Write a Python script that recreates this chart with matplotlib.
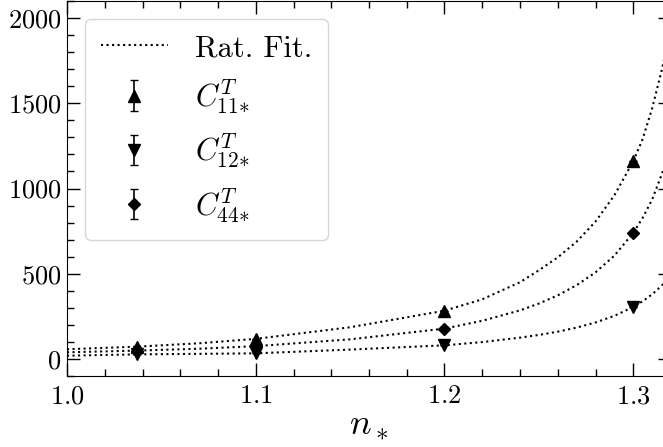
import numpy as np
import matplotlib
matplotlib.use("Agg")
import matplotlib.pyplot as plt

plt.rcParams["font.family"] = "serif"
plt.rcParams["font.serif"] = ["cmr10"]
plt.rcParams["mathtext.fontset"] = "cm"
plt.rcParams["axes.formatter.use_mathtext"] = True

# measured points
n_pts = [1.037, 1.1, 1.2, 1.3]
c11 = [72, 118, 283, 1160]
c12 = [27, 33, 80, 305]
c44 = [49, 75, 178, 740]
err_c11 = [0, 0, 0, 0]
err_c12 = [0, 0, 0, 0]
err_c44 = [0, 0, 0, 0]

# rational fit curves
n_fit = [1.00, 1.037, 1.07, 1.10, 1.15, 1.20, 1.22, 1.24, 1.25, 1.26, 1.27, 1.28,
         1.29, 1.30, 1.305, 1.31, 1.315, 1.32]
fit_c11 = [57, 72, 92, 118, 186, 283, 350, 450, 520, 596, 688, 806,
           960, 1160, 1290, 1470, 1690, 1950]
fit_c12 = [19, 27, 30, 33, 55, 80, 99, 125, 141, 160, 184, 214,
           253, 305, 339, 379, 429, 492]
fit_c44 = [39, 49, 60, 75, 115, 178, 224, 285, 325, 373, 433, 508,
           606, 740, 828, 935, 1080, 1239]


def main():
    fig = plt.figure(figsize=(6.63, 4.47), dpi=100)
    ax = fig.add_axes([67 / 663, 71 / 447, 604 / 663, 375 / 447])

    ax.plot(n_fit, fit_c11, ls=":", lw=1.5, color="k", label="Rat. Fit.")
    ax.plot(n_fit, fit_c12, ls=":", lw=1.5, color="k")
    ax.plot(n_fit, fit_c44, ls=":", lw=1.5, color="k")

    ax.errorbar(n_pts, c11, yerr=err_c11, fmt="^", ms=8.5, color="k", capsize=3,
                elinewidth=1.2, label=r"$C^T_{11{*}}$")
    ax.errorbar(n_pts, c12, yerr=err_c12, fmt="v", ms=8.5, color="k", capsize=3,
                elinewidth=1.2, label=r"$C^T_{12{*}}$")
    ax.errorbar(n_pts, c44, yerr=err_c44, fmt="D", ms=6.5, color="k", capsize=3,
                elinewidth=1.2, label=r"$C^T_{44{*}}$")

    ax.set_xlim(1.0, 1.32)
    ax.set_ylim(-100, 2100)
    ax.set_xticks([1.0, 1.1, 1.2, 1.3])
    ax.set_xticks(np.arange(1.0, 1.32, 0.02), minor=True)
    ax.set_yticks([0, 500, 1000, 1500, 2000])
    ax.set_yticks(np.arange(-100, 2101, 100), minor=True)
    ax.tick_params(which="both", direction="in", top=True, right=True, labelsize=19)
    ax.tick_params(which="major", length=9.4, width=1.0)
    ax.tick_params(which="minor", length=4.7, width=1.0)
    ax.tick_params(axis="x", pad=6)
    ax.tick_params(axis="y", pad=4)

    ax.set_xlabel(r"$n_*$", fontsize=26, labelpad=2)

    ax.legend(loc="upper left", fontsize=22, handlelength=2.2, handletextpad=0.9,
              borderaxespad=0.6, labelspacing=0.5, borderpad=0.5)

    plt.savefig("out.png", dpi=100)
    plt.close()


if __name__ == "__main__":
    main()
